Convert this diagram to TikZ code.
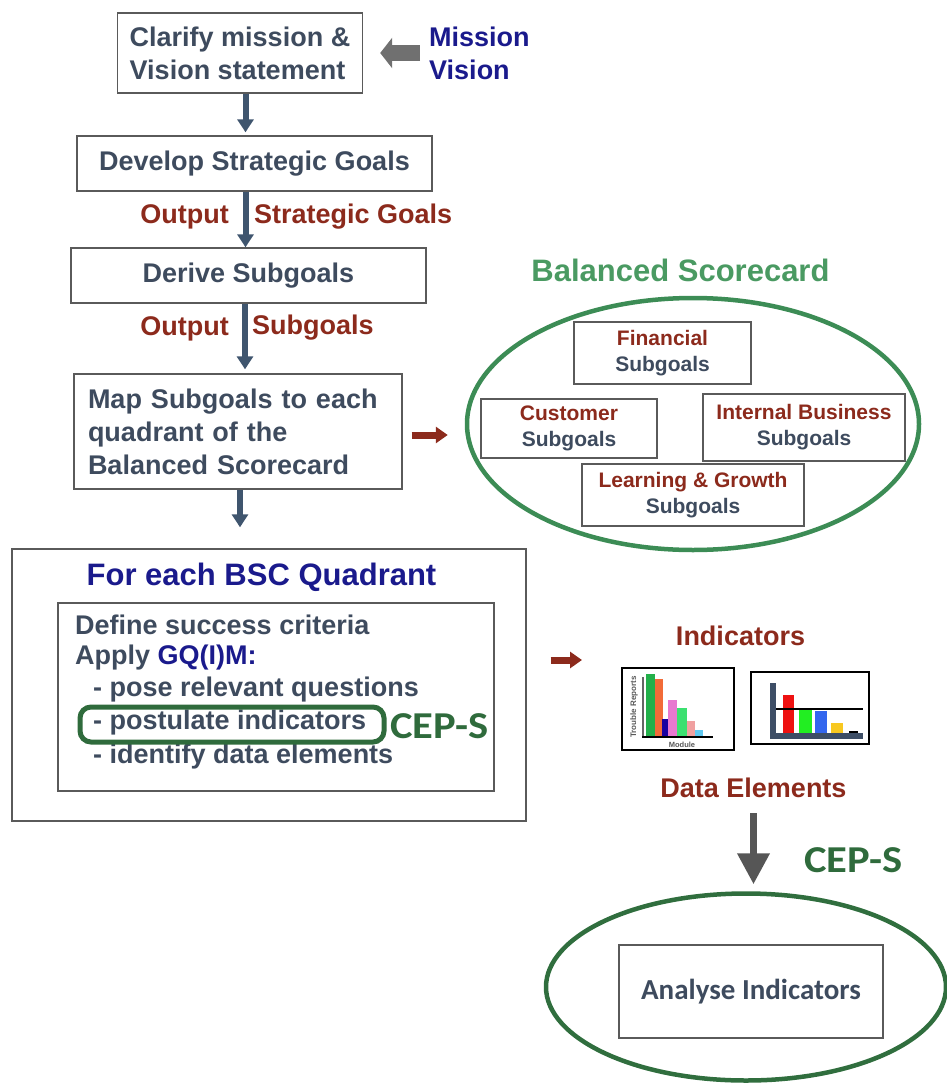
\documentclass[tikz,border=0pt]{standalone}
\usepackage{fontspec}
\setmainfont{Liberation Sans}
\newfontfamily\calfont{Carlito}
\newfontfamily\calwide[FakeStretch=1.12]{Carlito}
\usetikzlibrary{arrows.meta,shapes.geometric}

\definecolor{slate}{HTML}{3E4B5E}
\definecolor{arrowslate}{HTML}{3F556E}
\definecolor{boxgray}{HTML}{5A5A5A}
\definecolor{darkred}{HTML}{8C2A1C}
\definecolor{navy}{HTML}{1A1A8C}
\definecolor{titlegreen}{HTML}{4A9A62}
\definecolor{ringgreen}{HTML}{3C8C55}
\definecolor{cepgreen}{HTML}{2F6B3C}
\definecolor{blockgray}{HTML}{707070}
\definecolor{downgray}{HTML}{565656}
% bar colours
\definecolor{barA}{HTML}{22B04A}
\definecolor{barB}{HTML}{F26B38}
\definecolor{barC}{HTML}{1A00A0}
\definecolor{barD}{HTML}{E878D0}
\definecolor{barE}{HTML}{3BE070}
\definecolor{barF}{HTML}{F0A0A0}
\definecolor{barG}{HTML}{60C8F0}
\definecolor{barR}{HTML}{EE1111}
\definecolor{barV}{HTML}{22EE22}
\definecolor{barU}{HTML}{3366EE}
\definecolor{barY}{HTML}{F8C820}
\definecolor{axisslate}{HTML}{3D4E66}

\tikzset{
  stepbox/.style={draw=boxgray, line width=1.4pt, inner sep=0pt, fill=white,
    align=center, text=slate, font=\bfseries\fontsize{27}{33}\selectfont},
  subbox/.style={draw=boxgray, line width=1.3pt, inner sep=0pt, fill=white,
    align=center, text=slate, font=\bfseries\fontsize{21}{26}\selectfont},
  lbl/.style={inner sep=0pt, font=\bfseries\fontsize{27}{33}\selectfont},
  slatearrow/.style={draw=arrowslate, line width=6pt,
    -{Triangle[width=16pt,length=13pt]}},
  redarrow/.style={draw=darkred, line width=7pt,
    -{Triangle[width=16pt,length=12pt]}},
  blockarrow/.style={draw=blockgray, line width=16pt,
    -{Triangle[width=30pt,length=12pt]}},
  downarrow/.style={draw=downgray, line width=7pt,
    -{Triangle[width=31pt,length=31pt]}},
  ring/.style={ellipse, draw=ringgreen, line width=4.5pt, inner sep=0pt},
  cep/.style={inner sep=0pt, text=cepgreen, font=\calwide\bfseries\fontsize{38}{42}\selectfont},
  chartframe/.style={draw=black, line width=2pt, inner sep=0pt, fill=white},
}

\begin{document}
\begin{tikzpicture}[x=1pt,y=-1pt]
\useasboundingbox (0,0) rectangle (947,1084);

% ---- main column of steps
\node[stepbox, minimum width=245pt, minimum height=80pt, align=left]
  (clarify) at (240,53) {Clarify mission \&\\Vision statement};
\node[lbl, text=navy, anchor=west, align=left] (mv) at (429,53) {Mission\\Vision};

\node[stepbox, minimum width=355pt, minimum height=55pt] (develop) at (254.5,163.5)
  {Develop Strategic Goals};
\node[stepbox, minimum width=355pt, minimum height=55pt] (derive) at (248.5,275.5)
  {Derive Subgoals};
\node[stepbox, minimum width=328pt, minimum height=115pt, text width=300pt, align=left]
  (map) at (238,431.5) {Map Subgoals to each\\quadrant of the\\Balanced Scorecard};

\node[lbl, text=darkred, anchor=east] (out1) at (229,217) {Output};
\node[lbl, text=darkred, anchor=west] (sg1) at (254,217) {Strategic Goals};
\node[lbl, text=darkred, anchor=east] (out2) at (229,329) {Output};
\node[lbl, text=darkred, anchor=west] (sg2) at (252,328) {Subgoals};

\draw[blockarrow, shorten <=9pt, shorten >=17pt] (mv.west) -- (clarify.east);
\draw[slatearrow, shorten >=3pt] ([xshift=5.5pt]clarify.south) -- ([xshift=5.5pt]clarify.south |- develop.north);
\draw[slatearrow] ([xshift=-9pt]develop.south) -- ([xshift=-9pt]develop.south |- derive.north);
\draw[slatearrow, shorten >=4pt] ([xshift=-3.5pt]derive.south) -- ([xshift=-3.5pt]derive.south |- map.north);

% ---- balanced scorecard
\node[inner sep=0pt, text=titlegreen, font=\bfseries\fontsize{31}{36}\selectfont]
  (bsctitle) at (680.5,270) {Balanced Scorecard};
\node[ring, minimum width=452pt, minimum height=252pt] (bsc) at (693,424) {};
\node[subbox, minimum width=177pt, minimum height=62pt] (fin) at (662.5,353)
  {\textcolor{darkred}{Financial}\\Subgoals};
\node[subbox, minimum width=176pt, minimum height=59pt] (cust) at (569,428.5)
  {\textcolor{darkred}{Customer}\\Subgoals};
\node[subbox, minimum width=202pt, minimum height=67pt] (intb) at (804,427.5)
  {\textcolor{darkred}{Internal Business}\\Subgoals};
\node[subbox, minimum width=222pt, minimum height=62pt] (learn) at (693,495)
  {\textcolor{darkred}{Learning \& Growth}\\Subgoals};

\draw[redarrow, shorten <=9pt, shorten >=17pt] ([yshift=-3.5pt]map.east) -- ([yshift=-3.5pt]map.east -| bsc.west);

% ---- per-quadrant work
\node[draw=boxgray, line width=1.4pt, minimum width=514pt, minimum height=272pt, inner sep=0pt]
  (quad) at (269,685) {};
\node[inner sep=0pt, text=navy, font=\bfseries\fontsize{31}{36}\selectfont]
  (quadtitle) at (261.5,577) {For each BSC Quadrant};
\node[draw=boxgray, line width=1.4pt, minimum width=436pt, minimum height=188pt, inner sep=0pt]
  (crit) at (276,697) {};

\draw[slatearrow, shorten >=21pt] ([xshift=2pt]map.south) -- ([xshift=2pt]map.south |- quad.north);

\node[lbl, text=slate, anchor=west] (c1) at (75,625) {Define success criteria};
\node[lbl, text=slate, anchor=west] (c2) at (75,658) {Apply \textcolor{navy}{GQ(I)M:}};
\node[lbl, text=slate, anchor=west] (c3) at (93,690) {- pose relevant questions};
\node[lbl, text=slate, anchor=west] (c4) at (93,723) {- postulate indicators};
\node[lbl, text=slate, anchor=west] (c5) at (93,757) {- identify data elements};
\node[draw=cepgreen, line width=5pt, rounded corners=11pt, minimum width=304pt,
  minimum height=35pt, inner sep=0pt] (hl) at (232,724.5) {};
\node[cep, anchor=west] (cep1) at (390,726) {CEP-S};

% ---- indicators
\node[lbl, text=darkred] (ind) at (740.5,636) {Indicators};
\node[chartframe, minimum width=112pt, minimum height=82pt] (ch1) at (678,709) {};
\node[chartframe, minimum width=118pt, minimum height=72pt] (ch2) at (810,708) {};

\draw[redarrow, shorten <=24pt, shorten >=39pt] ([yshift=25pt]quad.east) -- ([yshift=25pt]quad.east -| ch1.west);

% first chart: trouble reports per module
\fill[barA] (646,674) rectangle (655,736);
\fill[barB] (655,679) rectangle (663,736);
\fill[barC] (662,719) rectangle (668,736);
\fill[barD] (668,700) rectangle (677,736);
\fill[barE] (677,708) rectangle (687,736);
\fill[barF] (687,721) rectangle (695,736);
\fill[barG] (695,730) rectangle (703,736);
\draw[line width=1.5pt, gray!80!black] (643,677) -- (643,737);
\draw[line width=2pt, black] (642,737) -- (713,737);
\node[inner sep=0pt, rotate=90, text=gray!70!black, font=\bfseries\fontsize{8}{9}\selectfont]
  (axy) at (634,707) {Trouble Reports};
\node[inner sep=0pt, text=gray!70!black, font=\bfseries\fontsize{7.5}{8}\selectfont]
  (axx) at (682,745) {Module};

% second chart: bars against a threshold
\fill[barR] (783,695) rectangle (794,733);
\fill[barV] (799,708) rectangle (812,733);
\fill[barU] (815,711) rectangle (827,733);
\fill[barY] (831,723) rectangle (843,733);
\fill[black] (849,731) rectangle (858,733);
\draw[line width=1.5pt, black] (776,709) -- (863,709);
\fill[axisslate] (770,683) rectangle (776,739);
\fill[axisslate] (770,733) rectangle (863,739);

% ---- data elements and analysis
\node[lbl, text=darkred] (de) at (753.5,788) {Data Elements};
\node[cep, anchor=west] (cep2) at (804,860) {CEP-S};
\node[ring, draw=cepgreen!90!ringgreen, minimum width=400pt, minimum height=187pt] (ana) at (746,987) {};
\node[draw=boxgray, line width=1.3pt, minimum width=264pt, minimum height=93pt, inner sep=0pt,
  text=slate, font=\calfont\bfseries\fontsize{29}{33}\selectfont] (anabox) at (751,991.5)
  {Analyse Indicators};

\draw[downarrow, shorten <=15pt, shorten >=7pt] (de.south) -- (de.south |- ana.north);
\end{tikzpicture}
\end{document}
